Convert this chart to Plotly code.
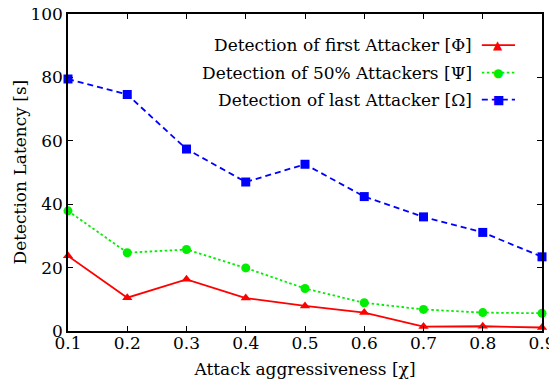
import plotly.graph_objects as go

x = [0.1, 0.2, 0.3, 0.4, 0.5, 0.6, 0.7, 0.8, 0.9]
first_attacker = [23.7, 10.5, 16.3, 10.4, 7.9, 5.8, 1.4, 1.5, 1.1]
half_attackers = [37.9, 24.7, 25.7, 19.9, 13.4, 8.9, 6.8, 5.8, 5.6]
last_attacker = [79.5, 74.6, 57.4, 47.0, 52.6, 42.4, 36.0, 31.1, 23.4]
y_ticks = [0, 20, 40, 60, 80, 100]

series_names = ["Detection of first Attacker [Φ]",
                "Detection of 50% Attackers [Ψ]",
                "Detection of last Attacker [Ω]"]
colors = ["#ff0000", "#00ee00", "#0000ff"]
dashes = ["solid", "2.5px,2.5px", "6px,4px"]
symbols = ["triangle-up", "circle", "square"]
msizes = [9, 9, 9]

FONT = "DejaVu Serif"
FS = 17
fig = go.Figure()
for ys, name, c, d, s, ms in zip([first_attacker, half_attackers, last_attacker],
                                 series_names, colors, dashes, symbols, msizes):
    fig.add_trace(go.Scatter(x=x, y=ys, mode="lines+markers", name=name,
                             line=dict(color=c, width=1.8, dash=d),
                             marker=dict(symbol=s, size=ms, color=c),
                             cliponaxis=False, showlegend=False))

# custom legend (text right-aligned, key on the right)
legend_y = [0.902, 0.815, 0.73]
key_glyph = ["▲", "●", "■"]
for name, c, d, g, ly in zip(series_names, colors, dashes, key_glyph, legend_y):
    fig.add_annotation(xref="paper", yref="paper", x=0.856, y=ly, text=name,
                       showarrow=False, xanchor="right", yanchor="middle",
                       font=dict(family=FONT, size=FS, color="black"))
    fig.add_shape(type="line", xref="paper", yref="paper",
                  x0=0.873, x1=0.943, y0=ly, y1=ly,
                  line=dict(color=c, width=1.8, dash=d))
    fig.add_annotation(xref="paper", yref="paper", x=0.908, y=ly, text=g,
                       showarrow=False, xanchor="center", yanchor="middle",
                       font=dict(family="DejaVu Sans", size=12, color=c))

# y-axis title as a rotated annotation
fig.add_annotation(xref="paper", yref="paper", x=0, y=0.5, xshift=-49,
                   text="Detection Latency [s]", textangle=-90, showarrow=False,
                   xanchor="center", yanchor="middle",
                   font=dict(family=FONT, size=FS, color="black"))

axis_common = dict(showline=True, linecolor="black", linewidth=1.5, mirror="ticks",
                   ticks="inside", ticklen=5, tickcolor="black", showgrid=False,
                   zeroline=False, automargin=False, ticklabeloverflow="allow",
                   tickfont=dict(family=FONT, size=FS, color="black"))
fig.update_xaxes(range=[0.1, 0.9], tickvals=x, ticktext=[f"{v:.1f}" for v in x],
                 ticklabelstandoff=-4,
                 title=dict(text="Attack aggressiveness [χ]", standoff=11,
                            font=dict(family=FONT, size=FS, color="black")),
                 **axis_common)
fig.update_yaxes(range=[0, 100], tickvals=y_ticks, ticklabelstandoff=0,
                 **axis_common)
# the page body adds an 8px offset, so the figure is 8px smaller and margins shifted
fig.update_layout(width=549, height=375, margin=dict(l=60, r=15, t=6, b=52),
                  plot_bgcolor="white", paper_bgcolor="white")
fig.write_html("out.html")
